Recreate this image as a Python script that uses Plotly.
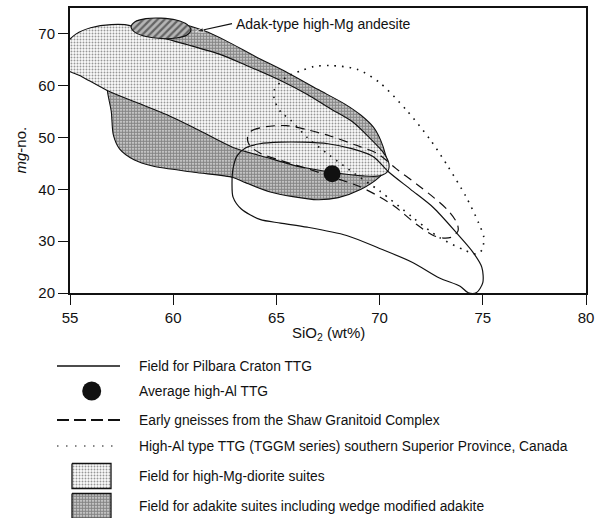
import plotly.graph_objects as go

W, H = 597, 518
PL, PR, PT, PB = 70, 586, 8, 293  # plot area in pixels

# ---------------- data ----------------
x_ticks = [55, 60, 65, 70, 75, 80]
y_ticks = [20, 30, 40, 50, 60, 70]

# Field for adakite suites (dark stipple)
adakite_x = [57.0, 57.1, 57.5, 58.2, 59.3, 60.5, 61.5, 62.5, 64.0, 65.5, 67.0, 68.3, 69.1, 69.7,
             70.05, 70.3, 70.4, 70.0, 69.1, 68.0, 67.0, 65.8, 64.7, 63.5, 62.9, 61.0, 59.0, 58.1,
             57.4, 57.1, 57.0, 56.8, 56.9, 57.0]
adakite_y = [66.0, 68.5, 70.6, 71.8, 72.3, 71.8, 70.6, 68.8, 65.6, 62.6, 59.3, 56.5, 54.3, 52.0,
             49.5, 46.5, 44.3, 42.4, 40.0, 38.4, 38.0, 38.6, 39.5, 41.3, 42.3, 43.3, 44.5, 45.7,
             47.8, 50.5, 55.0, 59.5, 63.0, 66.0]

# Field for high-Mg-diorite suites (light stipple)
hmgd_x = [54.6, 54.7, 55.3, 56.0, 57.0, 57.9, 58.3, 59.5, 60.7, 62.3, 63.5, 65.2, 66.5, 67.6,
          68.7, 69.5, 70.2, 70.45, 70.4, 70.0, 69.2, 67.7, 66.2, 64.5, 62.9, 61.2, 59.7, 58.2,
          56.8, 55.6, 54.6]
hmgd_y = [63.8, 67.5, 70.0, 71.2, 71.8, 71.6, 70.6, 69.2, 67.9, 66.0, 64.0, 61.0, 58.3, 55.6,
          53.0, 50.0, 47.0, 45.0, 43.5, 42.6, 42.6, 43.3, 44.3, 46.2, 48.1, 51.5, 54.4, 56.8,
          59.1, 61.7, 63.8]

# Adak-type high-Mg andesite (hatched)
adak_x = [60.86, 60.67, 60.14, 59.41, 58.68, 58.15, 57.96, 58.15, 58.68, 59.41, 60.14, 60.67, 60.86]
adak_y = [70.75, 71.85, 72.70, 73.05, 72.95, 72.35, 71.35, 70.30, 69.50, 69.10, 69.20, 69.80, 70.75]
adak_label = "Adak-type high-Mg andesite"
adak_label_pos = (62.95, 71.95)
adak_arrow_x = [62.85, 61.1]
adak_arrow_y = [72.0, 70.45]

# Field for Pilbara Craton TTG (solid outline)
pilbara_x = [64.2, 65.2, 66.3, 67.5, 68.7, 69.7, 70.4, 71.5, 72.6, 73.75, 74.5, 74.95, 75.0, 74.7,
             74.3, 73.9, 72.9, 71.6, 70.0, 68.4, 66.5, 65.2, 64.2, 63.3, 62.9, 62.85, 62.9, 63.1,
             63.5, 64.2]
pilbara_y = [48.8, 49.1, 49.1, 48.8, 47.8, 46.3, 43.5, 40.0, 36.5, 31.5, 28.0, 25.0, 22.0, 20.1,
             20.05, 21.3, 22.9, 25.9, 28.6, 31.1, 32.7, 33.5, 34.2, 36.2, 38.5, 41.0, 44.0, 46.5,
             48.0, 48.8]

# Early gneisses from the Shaw Granitoid Complex (dashed outline)
shaw_x = [63.6, 63.8, 64.5, 65.5, 66.5, 67.6, 68.8, 69.9, 70.8, 71.8, 72.6, 73.3, 73.75, 73.8,
          73.5, 73.1, 72.6, 71.8, 70.7, 69.8, 69.0, 68.0, 66.5, 65.2, 64.2, 63.7, 63.6]
shaw_y = [50.0, 51.3, 52.1, 52.3, 51.5, 50.3, 48.6, 46.9, 44.0, 41.0, 38.5, 36.0, 33.5, 32.0,
          30.8, 30.6, 31.1, 33.2, 36.8, 39.0, 40.6, 42.0, 44.0, 45.6, 47.0, 48.5, 50.0]

# High-Al type TTG (TGGM series), southern Superior Province (dotted outline)
tggm_x = [65.7, 65.2, 64.9, 64.9, 65.5, 66.2, 66.8, 67.6, 68.9, 70.0, 71.3, 72.45, 73.3, 74.2,
          74.8, 75.05, 74.96, 74.7, 74.1, 72.9, 71.6, 70.0, 68.8, 67.6, 66.5, 65.7]
tggm_y = [53.3, 55.0, 57.3, 59.2, 61.7, 62.9, 63.7, 63.9, 63.2, 60.6, 55.3, 49.6, 44.5, 38.5,
          33.5, 30.7, 28.3, 27.5, 28.3, 30.7, 34.6, 39.7, 43.0, 46.5, 50.0, 53.3]

# Average high-Al TTG
avg_x = [67.7]
avg_y = [43.0]

x_title = "SiO<sub>2</sub> (wt%)"
y_title = "<i>mg</i>-no."
legend_labels = [
    "Field for Pilbara Craton TTG",
    "Average high-Al TTG",
    "Early gneisses from the Shaw Granitoid Complex",
    "High-Al type TTG (TGGM series) southern Superior Province, Canada",
    "Field for high-Mg-diorite suites",
    "Field for adakite suites including wedge modified adakite",
]

# ---------------- styles ----------------
FONT = "Liberation Sans, Arial, Helvetica, sans-serif"
INK = "#111111"
LIGHT = dict(shape=".", size=3, solidity=0.32, fgcolor="#333333", bgcolor="#fbfbfb")
DARK = dict(shape=".", size=3, solidity=0.66, fgcolor="#222222", bgcolor="#e8e8e8")
HATCH = dict(shape="/", size=5, solidity=0.45, fgcolor="#111111", bgcolor="#b5b5b5")
DASH = "9px,6px"
DOT = "1.6px,6px"

fig = go.Figure()

def field(x, y, pattern, name):
    fig.add_trace(go.Scatter(x=x, y=y, mode="lines", fill="toself", fillpattern=pattern,
                             fillcolor="white",
                             line=dict(color=INK, width=1.1, shape="spline", smoothing=0.8),
                             name=name, hoverinfo="skip", showlegend=False))

def outline(x, y, dash, name, width=1.2):
    fig.add_trace(go.Scatter(x=x, y=y, mode="lines",
                             line=dict(color=INK, width=width, dash=dash, shape="spline", smoothing=0.8),
                             name=name, hoverinfo="skip", showlegend=False))

field(adakite_x, adakite_y, DARK, legend_labels[5])
field(hmgd_x, hmgd_y, LIGHT, legend_labels[4])
field(adak_x, adak_y, HATCH, adak_label)
outline(tggm_x, tggm_y, DOT, legend_labels[3], width=1.6)
outline(shaw_x, shaw_y, DASH, legend_labels[2])
outline(pilbara_x, pilbara_y, "solid", legend_labels[0])
fig.add_trace(go.Scatter(x=avg_x, y=avg_y, mode="markers",
                         marker=dict(size=17, color=INK), name=legend_labels[1],
                         hoverinfo="skip", showlegend=False))
# arrow from label to the Adak field
fig.add_trace(go.Scatter(x=adak_arrow_x, y=adak_arrow_y, mode="lines+markers",
                         line=dict(color=INK, width=1.2),
                         marker=dict(symbol=["circle", "arrow"], size=[0, 8], angleref="previous", color=INK),
                         hoverinfo="skip", showlegend=False))

# ---------------- custom legend (pixel overlay axes x2/y2) ----------------
LX0, LX1, LXC = 57, 120, 91.7
rows_y = [366, 391, 420, 446, 476, 506]
fig.add_trace(go.Scatter(x=[LX0, LX1], y=[rows_y[0]] * 2, mode="lines", xaxis="x2", yaxis="y2",
                         line=dict(color=INK, width=1.3), showlegend=False, hoverinfo="skip"))
fig.add_trace(go.Scatter(x=[LXC], y=[rows_y[1]], mode="markers", xaxis="x2", yaxis="y2",
                         marker=dict(size=19, color=INK), showlegend=False, hoverinfo="skip"))
fig.add_trace(go.Scatter(x=[LX0, LX1], y=[rows_y[2]] * 2, mode="lines", xaxis="x2", yaxis="y2",
                         line=dict(color=INK, width=2, dash="12px,5px"), showlegend=False, hoverinfo="skip"))
fig.add_trace(go.Scatter(x=[LX0, LX1], y=[rows_y[3]] * 2, mode="lines", xaxis="x2", yaxis="y2",
                         line=dict(color=INK, width=1.2, dash="1.5px,7.5px"), showlegend=False, hoverinfo="skip"))
for yc, pat in ((rows_y[4], LIGHT), (rows_y[5], DARK)):
    fig.add_trace(go.Scatter(x=[72, 111, 111, 72, 72], y=[yc - 12.5, yc - 12.5, yc + 12.5, yc + 12.5, yc - 12.5],
                             mode="lines", fill="toself", fillpattern=pat, fillcolor="white",
                             xaxis="x2", yaxis="y2", line=dict(color=INK, width=1.3),
                             showlegend=False, hoverinfo="skip"))

annotations = []
for lab, yc in zip(legend_labels, rows_y):
    annotations.append(dict(x=137, y=yc, xref="x2", yref="y2", text=lab, showarrow=False,
                            xanchor="left", yanchor="middle", font=dict(size=13.8, color=INK, family=FONT)))
# axis titles
annotations.append(dict(x=(PL + PR) / 2, y=333, xref="x2", yref="y2", text=x_title, showarrow=False,
                        xanchor="center", yanchor="middle", font=dict(size=15, color=INK, family=FONT)))
annotations.append(dict(x=20, y=(PT + PB) / 2, xref="x2", yref="y2", text=y_title, showarrow=False, textangle=-90,
                        xanchor="center", yanchor="middle", font=dict(size=15, color=INK, family=FONT)))
# Adak label
annotations.append(dict(x=adak_label_pos[0], y=adak_label_pos[1], xref="x", yref="y", text=adak_label,
                        showarrow=False, xanchor="left", yanchor="middle",
                        font=dict(size=14, color=INK, family=FONT)))

axis_common = dict(showline=True, linecolor=INK, linewidth=2, mirror=True, ticks="outside",
                   ticklen=10, tickwidth=1.4, tickcolor=INK, showgrid=False, zeroline=False,
                   tickfont=dict(size=15, color=INK, family=FONT), fixedrange=True, automargin=False)

fig.update_layout(
    width=W, height=H, margin=dict(l=0, r=0, t=0, b=0, autoexpand=False),
    paper_bgcolor="white", plot_bgcolor="rgba(0,0,0,0)",
    font=dict(family=FONT, color=INK),
    showlegend=False,
    xaxis=dict(domain=[PL / W, PR / W], range=[55, 80], tickvals=x_ticks, anchor="y", **axis_common),
    yaxis=dict(domain=[1 - PB / H, 1 - PT / H], range=[20, 75], tickvals=y_ticks, anchor="x", **axis_common),
    xaxis2=dict(domain=[0, 1], range=[0, W], visible=False, anchor="y2", fixedrange=True, automargin=False),
    yaxis2=dict(domain=[0, 1], range=[H, 0], visible=False, anchor="x2", fixedrange=True, automargin=False),
    annotations=annotations,
)

fig.write_html("out.html", config={"displayModeBar": False},
               post_script="document.body.style.margin='0px';")
